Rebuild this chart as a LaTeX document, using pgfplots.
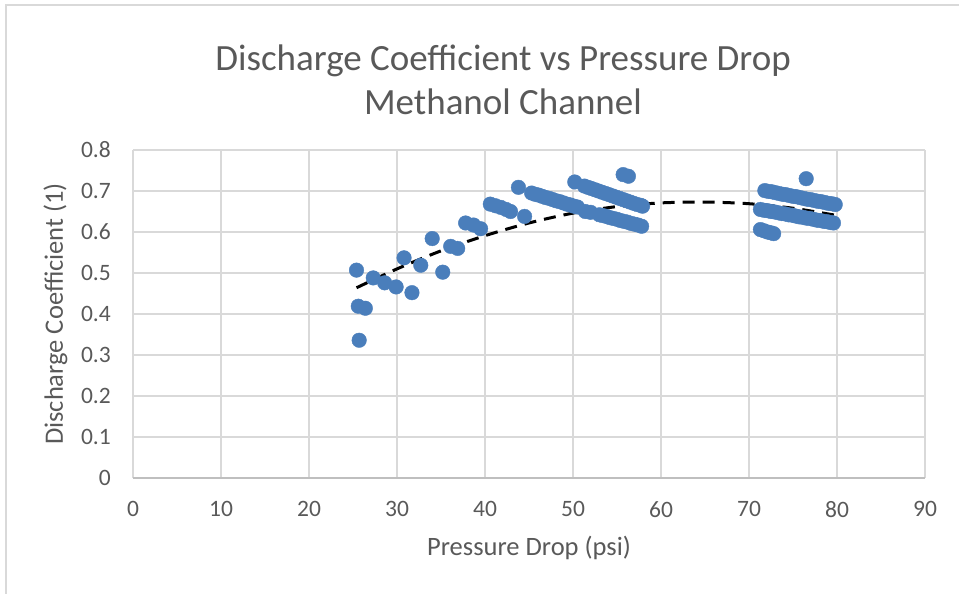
\documentclass[border=0pt]{standalone}
\usepackage{fontspec}
\setmainfont{Carlito}
\usepackage{pgfplots}
\pgfplotsset{compat=1.18}
\definecolor{txt}{HTML}{595959}
\definecolor{grd}{HTML}{D9D9D9}
\definecolor{axl}{HTML}{BFBFBF}
\definecolor{dot}{HTML}{4A7EBB}
\begin{document}
\begin{tikzpicture}
\path[use as bounding box] (0pt,0pt) rectangle (959pt,594pt);
\draw[grd,line width=2pt] (6pt,0pt) -- (6pt,589pt) -- (959pt,589pt);
\begin{axis}[
  at={(133pt,116pt)}, anchor=origin,
  scale only axis, width=792pt, height=328pt,
  xmin=0, xmax=90, ymin=0, ymax=0.8,
  xtick={0,10,...,90}, ytick={0,0.1,...,0.8},
  yticklabels={0,0.1,0.2,0.3,0.4,0.5,0.6,0.7,0.8},
  grid=major, major grid style={grd, line width=1.3pt},
  axis line style={draw=none},
  major tick length=0pt,
  tick label style={font=\fontsize{23.5}{28}\selectfont, text=txt, inner sep=0pt},
  xticklabel style={anchor=north, yshift=-23pt},
  yticklabel style={anchor=east, xshift=-22pt},
  /pgf/number format/assume math mode=true,
  clip=false,
]
\draw[axl, line width=1.5pt] (axis cs:0,0) -- (axis cs:90,0);
\addplot[only marks, mark=*, mark size=7.3pt, mark options={fill=dot, draw=dot}] coordinates {
(25.4,0.507) (25.6,0.419) (26.4,0.414) (25.7,0.336) (27.3,0.488) (28.6,0.476)
(29.9,0.466) (30.8,0.537) (31.7,0.452) (32.7,0.519) (34.0,0.584) (35.2,0.502)
(36.1,0.565) (36.9,0.560) (37.8,0.622) (38.7,0.617) (39.5,0.608)
(40.6,0.668) (41.2,0.664) (41.8,0.660) (42.4,0.655) (42.9,0.650)
(43.8,0.709) (44.5,0.638)
(45.3,0.695) (45.7,0.692) (46.1,0.690) (46.5,0.687) (46.9,0.684) (47.3,0.682)
(47.7,0.679) (48.1,0.676) (48.5,0.674) (48.9,0.671) (49.3,0.668) (49.7,0.666)
(50.1,0.663) (50.5,0.661)
(50.2,0.722)
(51.3,0.712) (51.7,0.709) (52.1,0.706) (52.5,0.703) (52.9,0.700) (53.3,0.697)
(53.7,0.694) (54.1,0.691) (54.5,0.688) (54.9,0.685) (55.3,0.682) (55.7,0.679)
(56.1,0.676) (56.5,0.673) (56.9,0.670) (57.3,0.667) (57.7,0.665) (57.9,0.663)
(51.4,0.650) (52.0,0.648)
(53.0,0.642) (53.4,0.640) (53.8,0.638) (54.2,0.635) (54.6,0.633) (55.0,0.631)
(55.4,0.628) (55.8,0.626) (56.2,0.624) (56.6,0.621) (57.0,0.619) (57.4,0.617)
(57.8,0.614)
(55.7,0.740) (56.3,0.736)
(71.8,0.701) (72.2,0.699) (72.6,0.698) (73.0,0.696) (73.4,0.694) (73.8,0.692)
(74.2,0.691) (74.6,0.689) (75.0,0.687) (75.4,0.686) (75.8,0.684) (76.2,0.682)
(76.6,0.680) (77.0,0.679) (77.4,0.677) (77.8,0.675) (78.2,0.674) (78.6,0.672)
(79.0,0.670) (79.4,0.669) (79.8,0.667)
(71.3,0.655) (71.7,0.653) (72.1,0.652) (72.5,0.650) (72.9,0.649) (73.3,0.647)
(73.7,0.645) (74.1,0.644) (74.5,0.642) (74.9,0.641) (75.3,0.639) (75.7,0.637)
(76.1,0.636) (76.5,0.634) (76.9,0.633) (77.3,0.631) (77.7,0.629) (78.1,0.628)
(78.5,0.626) (78.9,0.625) (79.3,0.623) (79.6,0.622)
(71.3,0.606) (71.7,0.603) (72.1,0.600) (72.5,0.598) (72.8,0.596)
(76.5,0.730)
};
\addplot[black, line width=3pt, dash pattern=on 12pt off 8pt, smooth] coordinates {
(25.4,0.464) (30,0.510) (35,0.554) (40,0.591) (45,0.622) (50,0.646)
(55,0.662) (60,0.671) (65,0.673) (70,0.669) (75,0.658) (79.8,0.641)
};
\end{axis}
\node[text=txt, font=\fontsize{37}{44}\selectfont, align=center] at (503pt,514.5pt) {Discharge Coefficient vs Pressure Drop\\Methanol Channel};
\node[text=txt, font=\fontsize{26.5}{32}\selectfont] at (529pt,46pt) {Pressure Drop (psi)};
\node[text=txt, font=\fontsize{26.5}{32}\selectfont, rotate=90] at (55.5pt,280pt) {Discharge Coefficient (1)};
\end{tikzpicture}
\end{document}
